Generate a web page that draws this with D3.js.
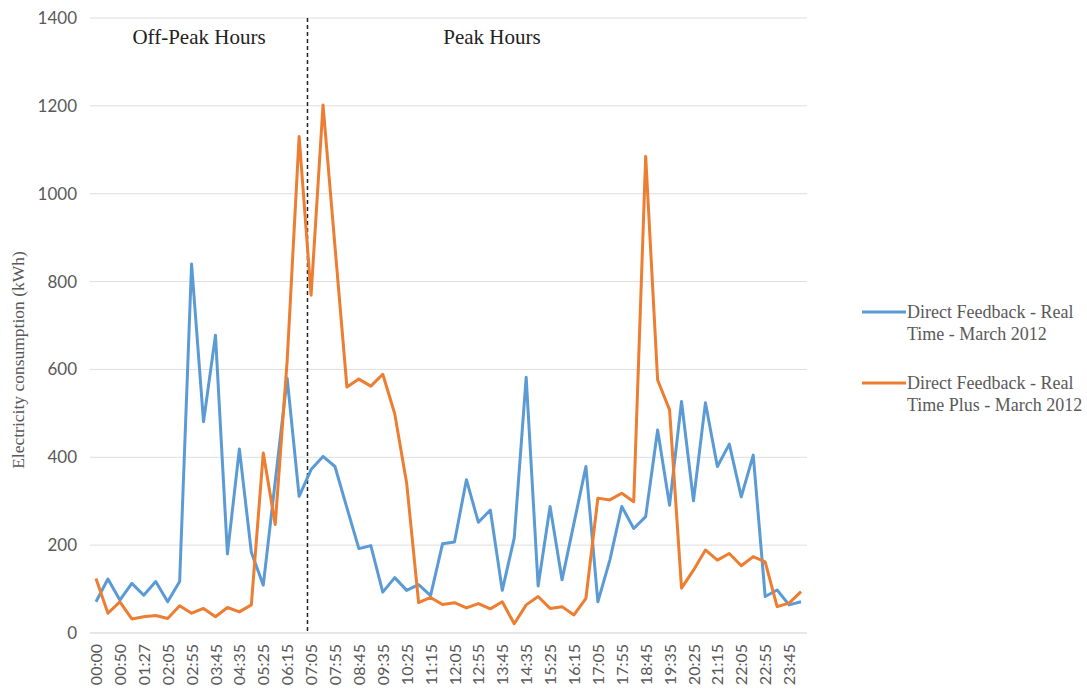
<!DOCTYPE html>
<html>
<head>
<meta charset="utf-8">
<script src="https://cdn.jsdelivr.net/npm/d3@7"></script>
<style>
  body { margin: 0; background: #fff; }
  svg { display: block; }
</style>
</head>
<body>
<svg id="chart" width="1087" height="698"></svg>
<script>
// tick labels shown on the axis (every other category)
const tickLabels = ['00:00', '00:50', '01:27', '02:05', '02:55', '03:45', '04:35', '05:25', '06:15', '07:05',
    '07:55', '08:45', '09:35', '10:25', '11:15', '12:05', '12:55', '13:45', '14:35', '15:25',
    '16:15', '17:05', '17:55', '18:45', '19:35', '20:25', '21:15', '22:05', '22:55', '23:45'];

const realTime = [71, 123, 75, 113, 86, 117, 71, 117, 840, 481,
    678, 180, 419, 184, 109, 345, 580, 311, 372, 402,
    379, 285, 192, 199, 93, 126, 97, 110, 85, 203,
    207, 349, 252, 280, 97, 216, 582, 107, 288, 121,
    250, 379, 71, 166, 288, 238, 265, 462, 291, 527,
    301, 524, 379, 430, 310, 405, 83, 98, 64, 71];

const realTimePlus = [124, 45, 71, 32, 37, 40, 33, 62, 45, 56,
    37, 58, 48, 64, 410, 247, 620, 1130, 769, 1202,
    880, 560, 578, 562, 589, 499, 341, 69, 81, 65,
    69, 57, 67, 55, 71, 21, 64, 83, 56, 60,
    41, 79, 307, 303, 318, 299, 1085, 576, 508, 102,
    143, 189, 166, 181, 153, 174, 162, 60, 68, 94];

const seriesNames = [
    ['Direct Feedback - Real', 'Time - March 2012'],
    ['Direct Feedback - Real', 'Time Plus - March 2012']
];
const yTicks = [0, 200, 400, 600, 800, 1000, 1200, 1400];
const peakStart = 17.7; // category position of the dashed divider

const COLORS = ['#5B9BD5', '#ED7D31'];
const M = { left: 90, right: 807, top: 18, bottom: 633 };

const svg = d3.select('#chart');
const n = realTime.length;

// categories sit in the middle of their band like an Excel line chart
const x = d3.scaleLinear().domain([-0.5, n - 0.5]).range([M.left, M.right]);
const y = d3.scaleLinear().domain([0, 1400]).range([M.bottom, M.top]);

// gridlines
svg.append('g')
    .selectAll('line')
    .data(yTicks)
    .join('line')
    .attr('x1', M.left).attr('x2', M.right)
    .attr('y1', d => y(d)).attr('y2', d => y(d))
    .attr('stroke', d => d === 0 ? '#cfcfcf' : '#dedede')
    .attr('stroke-width', 1);

// y axis labels
const yAxis = svg.append('g')
    .attr('transform', `translate(${M.left},0)`)
    .call(d3.axisLeft(y).tickValues(yTicks).tickFormat(d3.format('d')).tickSize(0).tickPadding(13));
yAxis.select('.domain').remove();
yAxis.selectAll('text')
    .attr('fill', '#595959')
    .style('font', '17px Lato, "Open Sans", sans-serif');

// x axis (labels every 2nd category)
const xAxis = svg.append('g')
    .attr('transform', `translate(0,${M.bottom})`)
    .call(d3.axisBottom(x)
        .tickValues(d3.range(0, n, 2))
        .tickFormat(i => tickLabels[i / 2])
        .tickSize(0));
xAxis.select('.domain').remove();
xAxis.selectAll('text')
    .attr('fill', '#595959')
    .style('font', '16px Lato, "Open Sans", sans-serif')
    .attr('text-anchor', 'end')
    .attr('dy', '0.35em')
    .attr('transform', 'translate(0,11) rotate(-90)')
    .attr('x', 0).attr('y', 0);

// y axis title
svg.append('text')
    .attr('transform', `translate(24,360) rotate(-90)`)
    .attr('text-anchor', 'middle')
    .attr('fill', '#595959')
    .style('font', '17.5px "Liberation Serif", serif')
    .text('Electricity consumption (kWh)');

// dashed divider between off-peak and peak
svg.append('line')
    .attr('x1', x(peakStart)).attr('x2', x(peakStart))
    .attr('y1', M.top).attr('y2', M.bottom)
    .attr('stroke', '#222')
    .attr('stroke-width', 1.5)
    .attr('stroke-dasharray', '4,3');

svg.append('text')
    .attr('x', 199).attr('y', 44)
    .attr('text-anchor', 'middle')
    .attr('fill', '#222')
    .style('font', '21px "Liberation Serif", serif')
    .text('Off-Peak Hours');
svg.append('text')
    .attr('x', 492).attr('y', 44)
    .attr('text-anchor', 'middle')
    .attr('fill', '#222')
    .style('font', '21px "Liberation Serif", serif')
    .text('Peak Hours');

// lines
const line = d3.line()
    .x((d, i) => x(i))
    .y(d => y(d));

[realTime, realTimePlus].forEach((s, k) => {
    svg.append('path')
        .datum(s)
        .attr('fill', 'none')
        .attr('stroke', COLORS[k])
        .attr('stroke-width', 3)
        .attr('stroke-linejoin', 'round')
        .attr('d', line);
});

// legend
const legend = svg.append('g').attr('transform', 'translate(862,312)');
seriesNames.forEach((lines, k) => {
    const g = legend.append('g').attr('transform', `translate(0,${k * 71})`);
    g.append('line')
        .attr('x1', 0).attr('x2', 44)
        .attr('stroke', COLORS[k])
        .attr('stroke-width', 3);
    g.append('text')
        .attr('x', 45).attr('y', 0)
        .attr('fill', '#595959')
        .style('font', '18px "Liberation Serif", serif')
        .selectAll('tspan')
        .data(lines)
        .join('tspan')
        .attr('x', 45)
        .attr('dy', (d, i) => i === 0 ? '0.35em' : '1.18em')
        .text(d => d);
});
</script>
</body>
</html>
